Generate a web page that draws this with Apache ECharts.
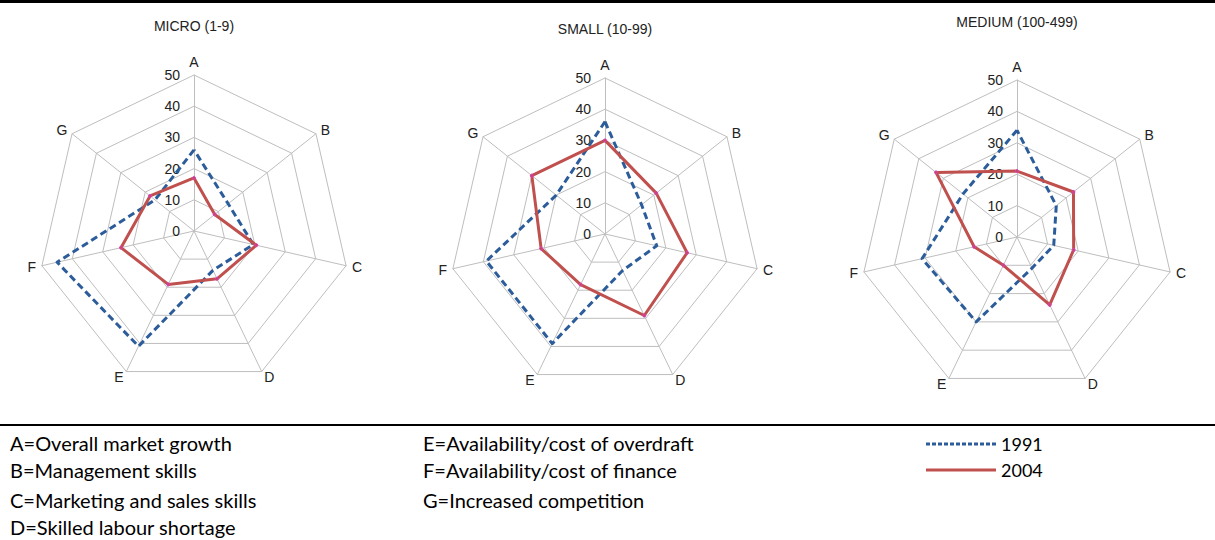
<!DOCTYPE html>
<html>
<head>
<meta charset="utf-8">
<script src="https://cdn.jsdelivr.net/npm/echarts@6/dist/echarts.min.js"></script>
<style>
html,body{margin:0;padding:0;background:#fff;}
#chart{width:1215px;height:540px;}
</style>
</head>
<body>
<div id="chart"></div>
<script>
// ---- data ----
const categories = ['A', 'B', 'C', 'D', 'E', 'F', 'G'];
const tickValues = [0, 10, 20, 30, 40, 50];
const panelTitles = ['MICRO (1-9)', 'SMALL (10-99)', 'MEDIUM (100-499)'];
const seriesNames = ['1991', '2004'];

const micro1991 = [26, 14, 19.5, 14, 41, 45, 16];
const micro2004 = [17, 8.5, 20.5, 17, 19, 24, 18];
const small1991 = [36, 15, 17, 13, 39, 39, 20];
const small2004 = [30, 21, 27, 29, 18, 21, 30];
const medium1991 = [34, 16, 12, 11, 30, 31, 22];
const medium2004 = [21, 23, 18.5, 24, 10, 14, 33];

const keyColumn1 = ['A=Overall market growth', 'B=Management skills', 'C=Marketing and sales skills', 'D=Skilled labour shortage'];
const keyColumn2 = ['E=Availability/cost of overdraft', 'F=Availability/cost of finance', 'G=Increased competition'];

// ---- build ----
const panels = [
  { v1991: micro1991, v2004: micro2004 },
  { v1991: small1991, v2004: small2004 },
  { v1991: medium1991, v2004: medium2004 }
];
const centers = [[194, 231], [605, 234], [1017, 237]];
const radii = [156, 156, 157];
const titleTops = [26, 29, 22];

// ECharts places indicators counter-clockwise; reorder so A..G run clockwise
const order = [0, 6, 5, 4, 3, 2, 1];
const reorder = arr => order.map(i => arr[i]);

const BLUE = '#2C5D9A';
const RED = '#C0504D';
const GRID = '#BEBEBE';
const AXIS_FONT = '"Liberation Sans", Arial, sans-serif';
const KEY_FONT = 'Lato, "Liberation Sans", sans-serif';

const radar = panels.map((p, k) => ({
  center: centers[k],
  radius: radii[k],
  startAngle: 90,
  shape: 'polygon',
  splitNumber: tickValues.length - 1,
  indicator: order.map((i, j) => {
    const ind = { name: categories[i], min: tickValues[0], max: tickValues[tickValues.length - 1] };
    if (j === 0) {
      ind.axisLabel = { show: true, color: '#222', fontSize: 14, fontFamily: AXIS_FONT, margin: 14, showMinLabel: true, showMaxLabel: true };
    }
    return ind;
  }),
  axisName: { color: '#222', fontSize: 14, fontFamily: AXIS_FONT },
  nameGap: 6,
  axisLine: { lineStyle: { color: GRID, width: 1 } },
  splitLine: { lineStyle: { color: GRID, width: 1 } },
  splitArea: { show: false },
  axisTick: { show: false },
  axisLabel: { show: false }
}));

const series = panels.map((p, k) => ({
  type: 'radar',
  radarIndex: k,
  silent: true,
  data: [
    {
      name: seriesNames[0],
      value: reorder(p.v1991),
      symbol: 'none',
      itemStyle: { color: BLUE },
      lineStyle: { color: BLUE, width: 3, type: [7, 4] }
    },
    {
      name: seriesNames[1],
      value: reorder(p.v2004),
      symbol: 'circle',
      symbolSize: 3,
      itemStyle: { color: RED, borderColor: '#E23BD6', borderWidth: 1 },
      lineStyle: { color: RED, width: 3, type: 'solid' }
    }
  ]
}));

// dotted legend sample for 1991
let dotted = 'path://';
for (let i = 0; i < 12; i++) { const x = i * 6; dotted += 'M' + x + ',0h4v3h-4z'; }

const graphic = [];
// top rule and separator
graphic.push({ type: 'rect', left: 0, top: 0, shape: { width: 1215, height: 3 }, style: { fill: '#000' } });
graphic.push({ type: 'rect', left: 0, top: 424, shape: { width: 1215, height: 2 }, style: { fill: '#000' } });
// panel titles
panelTitles.forEach((t, k) => {
  graphic.push({
    type: 'text', x: centers[k][0], y: titleTops[k],
    style: { text: t, fill: '#222', font: '14px ' + AXIS_FONT, textAlign: 'center', textVerticalAlign: 'middle' }
  });
});
// key text
const rowY = [443, 470, 500, 527];
keyColumn1.forEach((t, i) => {
  graphic.push({ type: 'text', x: 10, y: rowY[i], style: { text: t, fill: '#000', font: '20px ' + KEY_FONT, textVerticalAlign: 'middle' } });
});
keyColumn2.forEach((t, i) => {
  graphic.push({ type: 'text', x: 423, y: rowY[i], style: { text: t, fill: '#000', font: '20px ' + KEY_FONT, textVerticalAlign: 'middle' } });
});

const chart = echarts.init(document.getElementById('chart'), null, { renderer: 'svg' });
chart.setOption({
  backgroundColor: '#fff',
  animation: false,
  radar: radar,
  series: series,
  legend: {
    orient: 'vertical',
    left: 921,
    top: 430,
    itemWidth: 70,
    itemHeight: 3,
    itemGap: 8,
    selectedMode: false,
    data: [
      { name: seriesNames[0], icon: dotted, itemStyle: { color: BLUE, borderWidth: 0 } },
      { name: seriesNames[1], icon: 'rect', itemStyle: { color: RED, borderWidth: 0 } }
    ],
    textStyle: { color: '#000', fontSize: 18, fontFamily: KEY_FONT }
  },
  graphic: graphic
});
</script>
</body>
</html>
